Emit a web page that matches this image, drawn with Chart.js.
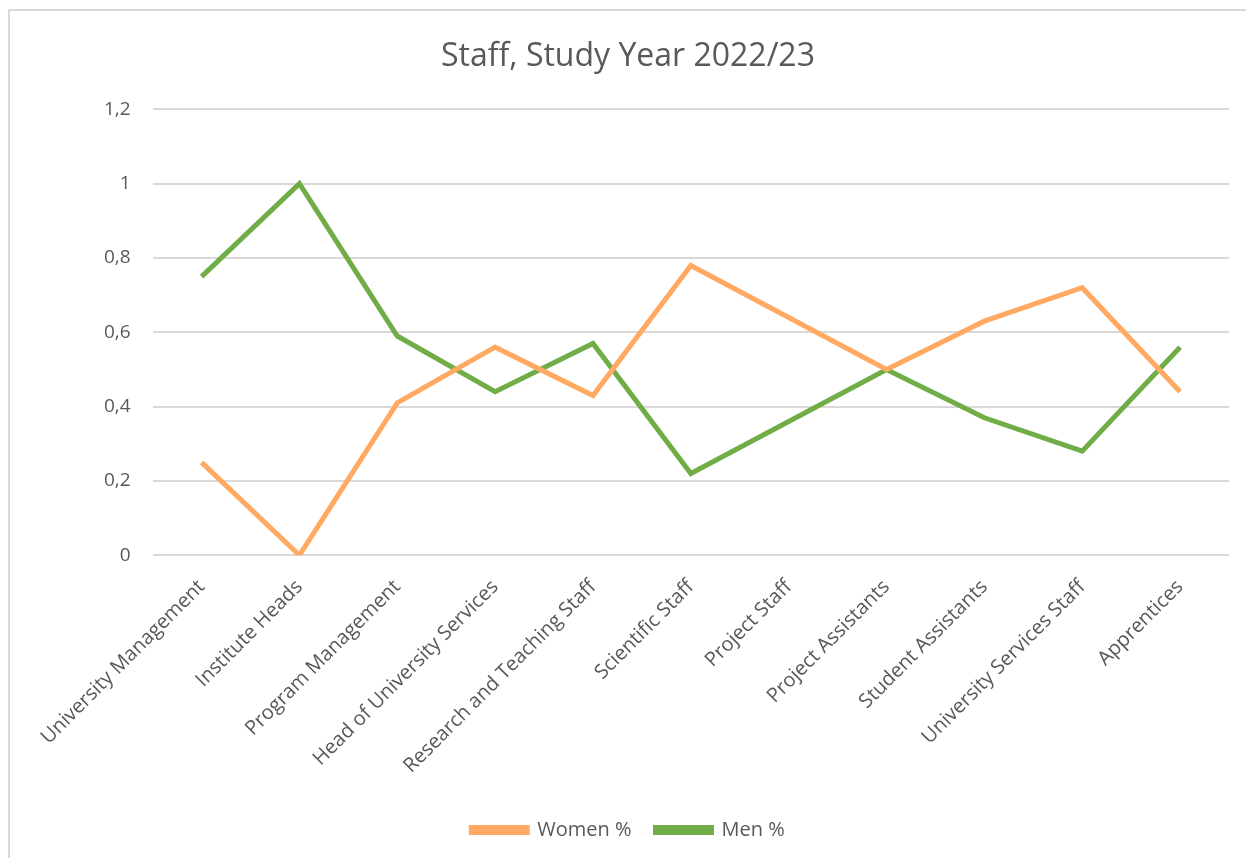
<!DOCTYPE html>
<html>
<head>
<meta charset="utf-8">
<script src="https://cdn.jsdelivr.net/npm/chart.js@4"></script>
<style>
  body { margin: 0; background: #fff; }
  #rahmen { position: absolute; left: 8px; top: 9px; width: 1250px; height: 860px;
            border-left: 2px solid #d9d9d9; border-top: 2px solid #d9d9d9; }
  canvas { position: absolute; left: 0; top: 0; }
</style>
</head>
<body>
<div id="rahmen"><canvas id="staff" width="1236" height="847"></canvas></div>
<script>
  const kategorien = ['University Management', 'Institute Heads', 'Program Management',
    'Head of University Services', 'Research and Teaching Staff', 'Scientific Staff',
    'Project Staff', 'Project Assistants', 'Student Assistants',
    'University Services Staff', 'Apprentices'];
  const frauen = [0.25, 0, 0.41, 0.56, 0.43, 0.78, 0.64, 0.5, 0.63, 0.72, 0.44];
  const maenner = [0.75, 1, 0.59, 0.44, 0.57, 0.22, 0.36, 0.5, 0.37, 0.28, 0.56];

  const schrift = '"Open Sans", "Liberation Sans", sans-serif';
  const grau = '#595959';

  const ctx = document.getElementById('staff').getContext('2d');
  new Chart(ctx, {
    type: 'line',
    data: {
      labels: kategorien,
      datasets: [{
        label: 'Women %',
        data: frauen,
        borderColor: '#ffa962',
        backgroundColor: '#ffa962',
        borderWidth: 5,
        pointRadius: 0,
        tension: 0
      }, {
        label: 'Men %',
        data: maenner,
        borderColor: '#70ad47',
        backgroundColor: '#70ad47',
        borderWidth: 5,
        pointRadius: 0,
        tension: 0
      }]
    },
    options: {
      responsive: false,
      animation: false,
      layout: { padding: { left: 17, right: 17, top: 10, bottom: 8 } },
      plugins: {
        title: {
          display: true,
          text: 'Staff, Study Year 2022/23',
          color: grau,
          font: { family: schrift, size: 32, weight: 'normal' },
          padding: { top: 17, bottom: 33 }
        },
        legend: {
          position: 'bottom',
          labels: {
            color: grau,
            font: { family: schrift, size: 20 },
            boxWidth: 56,
            boxHeight: 5,
            padding: 24
          }
        },
        tooltip: { enabled: false }
      },
      scales: {
        x: {
          offset: true,
          grid: { display: false },
          border: { display: false },
          afterFit: s => { s.height += 6; },
          ticks: {
            color: grau,
            font: { family: schrift, size: 20 },
            minRotation: 45,
            maxRotation: 45,
            autoSkip: false,
            padding: 12
          }
        },
        y: {
          min: 0,
          max: 1.2,
          grid: { color: '#d9d9d9', lineWidth: 2, drawTicks: false },
          border: { display: false },
          afterFit: s => { s.width += 55; },
          ticks: {
            stepSize: 0.2,
            color: grau,
            font: { family: schrift, size: 19 },
            padding: 22,
            callback: v => String(Math.round(v * 10) / 10).replace('.', ',')
          }
        }
      }
    }
  });
</script>
</body>
</html>
